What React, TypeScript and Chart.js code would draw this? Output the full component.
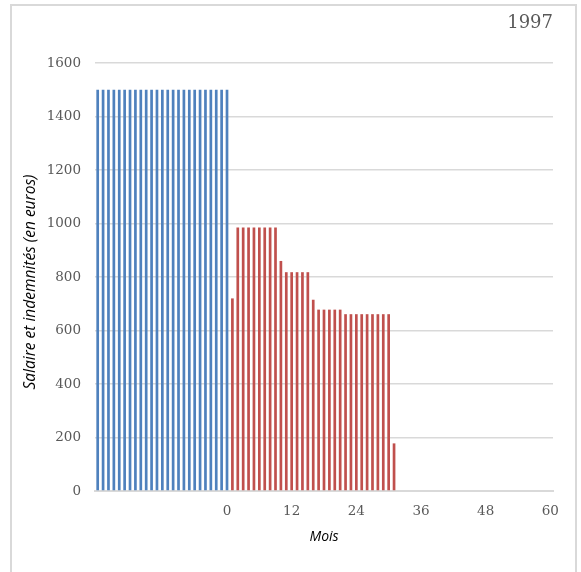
import React, { useEffect, useRef } from "react";
import { Chart, registerables } from "chart.js";

Chart.register(...registerables);

const months: number[] = [
  -24, -23, -22, -21, -20, -19, -18, -17, -16, -15, -14, -13, -12, -11, -10, -9, -8, -7, -6, -5, -4, -3, -2, -1,
  0, 1, 2, 3, 4, 5, 6, 7, 8, 9, 10, 11, 12, 13, 14, 15, 16, 17, 18, 19, 20, 21, 22, 23, 24, 25, 26, 27, 28, 29,
  30, 31, 32, 33, 34, 35, 36, 37, 38, 39, 40, 41, 42, 43, 44, 45, 46, 47, 48, 49, 50, 51, 52, 53, 54, 55, 56,
  57, 58, 59, 60,
];

// Salary, months -24 .. 0
const salaire: number[] = [
  1500, 1500, 1500, 1500, 1500, 1500, 1500, 1500, 1500, 1500, 1500, 1500, 1500, 1500, 1500, 1500, 1500, 1500,
  1500, 1500, 1500, 1500, 1500, 1500, 1500,
];

// Allowances, months 1 .. 31
const indemnites: number[] = [
  720, 985, 985, 985, 985, 985, 985, 985, 985, 860, 818, 818, 818, 818, 818, 715, 678, 678, 678, 678, 678, 661,
  661, 661, 661, 661, 661, 661, 661, 661, 178,
];

const xTickLabels: number[] = [0, 12, 24, 36, 48, 60];
const yTicks = { min: 0, max: 1600, step: 200 };

const titleText = "1997";
const yTitle = "Salaire et indemnités (en euros)";
const xTitle = "Mois";

export default function App() {
  const ref = useRef<HTMLCanvasElement | null>(null);

  useEffect(() => {
    if (!ref.current) return;
    const salaryData = months.map((m) => (m <= 0 && m >= -24 ? salaire[m + 24] : null));
    const allowData = months.map((m) => (m >= 1 && m <= indemnites.length ? indemnites[m - 1] : null));

    const textPlugin = {
      id: "texts",
      afterDraw(chart: any) {
        const ctx = chart.ctx;
        const area = chart.chartArea;
        ctx.save();
        ctx.fillStyle = "#595959";
        ctx.font = "18px 'DejaVu Serif'";
        ctx.textAlign = "right";
        ctx.textBaseline = "middle";
        ctx.fillText(titleText, area.right, 23);

        ctx.fillStyle = "#000000";
        ctx.font = "italic 14px 'Open Sans'";
        ctx.textAlign = "center";
        ctx.fillText(xTitle, (area.left + area.right) / 2, 537);

        ctx.font = "italic 15.5px 'Open Sans'";
        ctx.translate(31, 282);
        ctx.rotate(-Math.PI / 2);
        ctx.fillText(yTitle, 0, 0);
        ctx.restore();
      },
    };

    const chart = new Chart(ref.current, {
      type: "bar",
      data: {
        labels: months.map(String),
        datasets: [
          {
            label: "Salaire",
            data: salaryData,
            backgroundColor: "#4f81bd",
            grouped: false,
            barPercentage: 0.5,
            categoryPercentage: 1,
          } as any,
          {
            label: "Indemnités",
            data: allowData,
            backgroundColor: "#c0504d",
            grouped: false,
            barPercentage: 0.5,
            categoryPercentage: 1,
          } as any,
        ],
      },
      options: {
        animation: false,
        responsive: false,
        maintainAspectRatio: false,
        layout: { padding: { left: 0, top: 63, right: 28, bottom: 0 } },
        plugins: {
          legend: { display: false },
          tooltip: { enabled: false },
          title: { display: false },
        },
        scales: {
          x: {
            afterFit: (s: any) => {
              s.height = 81;
            },
            grid: { display: false, drawTicks: false },
            border: { display: true, color: "#d9d9d9", width: 2 },
            ticks: {
              autoSkip: false,
              maxRotation: 0,
              padding: 12,
              color: "#595959",
              font: { family: "'DejaVu Serif'", size: 13.5 },
              callback: function (this: any, value: any) {
                const lab = Number(this.getLabelForValue(value));
                return xTickLabels.includes(lab) ? String(lab) : null;
              },
            },
          },
          y: {
            min: yTicks.min,
            max: yTicks.max,
            afterFit: (s: any) => {
              s.width = 95;
            },
            grid: { color: "#d9d9d9", lineWidth: 1.5, drawTicks: false },
            border: { display: false },
            ticks: {
              stepSize: yTicks.step,
              padding: 14,
              color: "#595959",
              font: { family: "'DejaVu Serif'", size: 13.5 },
              callback: (value: any) => String(value),
            },
          },
        },
      },
      plugins: [textPlugin],
    });
    return () => chart.destroy();
  }, []);

  return (
    <div style={{ position: "absolute", left: 0, top: 0, width: 581, height: 572, background: "#fff" }}>
      <div
        style={{
          position: "absolute",
          left: 10,
          top: 4,
          width: 563,
          height: 580,
          border: "2px solid #d9d9d9",
          boxSizing: "content-box",
        }}
      />
      <canvas ref={ref} width={581} height={572} style={{ position: "absolute", left: 0, top: 0 }} />
    </div>
  );
}
